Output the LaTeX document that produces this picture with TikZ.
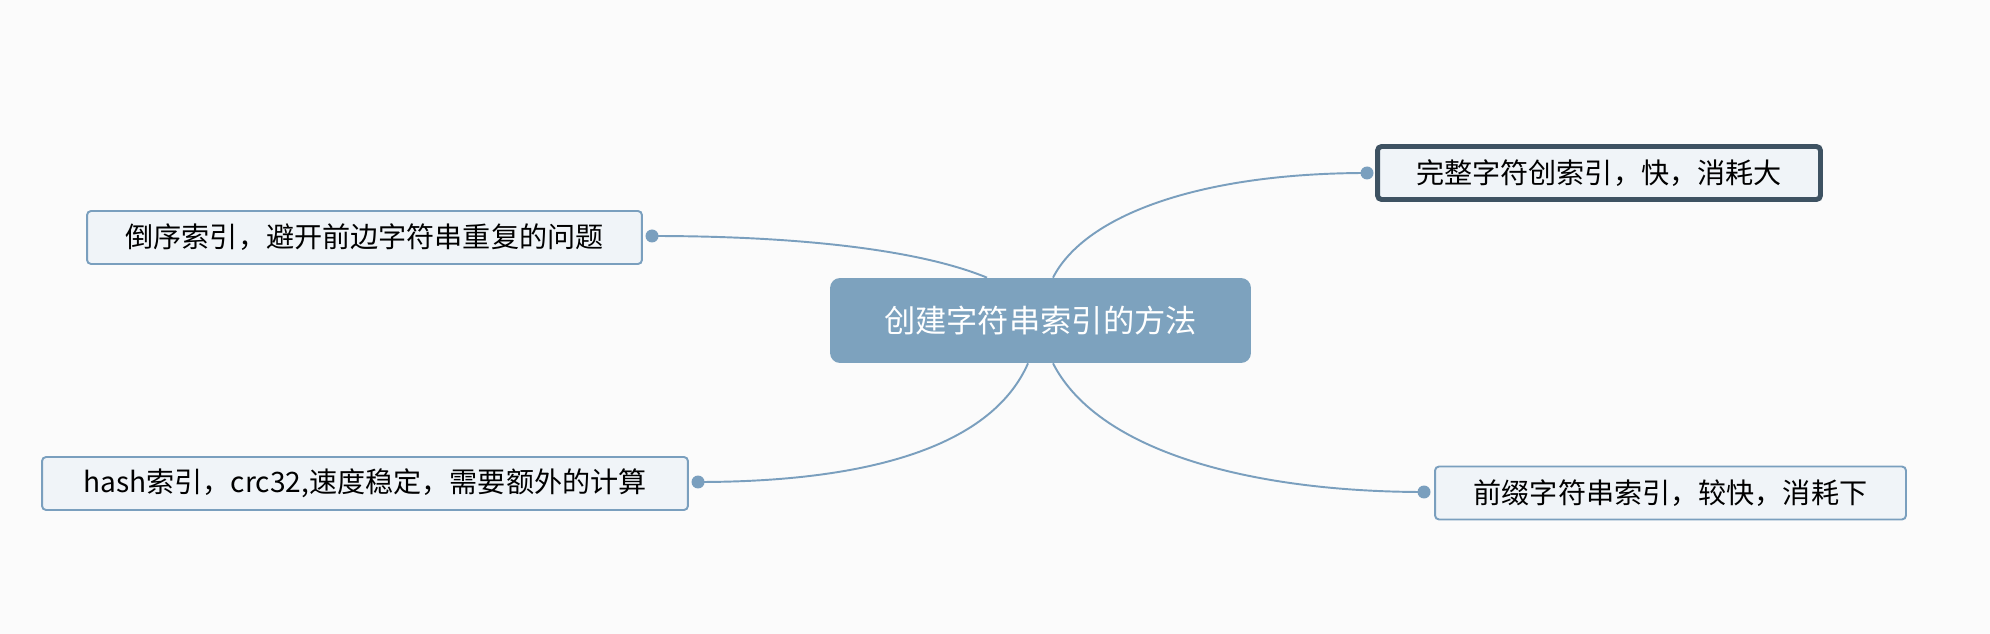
\documentclass[tikz,border=0pt]{standalone}
\usepackage{fontspec}
\setmainfont{Noto Sans CJK SC}
\usepackage{tikz}
\usetikzlibrary{calc}
\definecolor{rootblue}{HTML}{7DA2BE}
\definecolor{leafbg}{HTML}{F0F4F8}
\definecolor{leafline}{HTML}{7A9FBE}
\definecolor{selline}{HTML}{3E5262}
\definecolor{paper}{HTML}{FBFBFB}
\tikzset{
  root/.style={fill=rootblue,text=white,rounded corners=0.2cm,minimum width=8.42cm,minimum height=1.7cm,font=\fontsize{17.8}{21}\selectfont},
  leaf/.style={fill=leafbg,draw=leafline,line width=1.1pt,rounded corners=0.08cm,minimum height=1.06cm,font=\fontsize{16}{19}\selectfont},
  branch/.style={draw=leafline,line width=1.1pt},
  knob/.style={circle,fill=leafline,inner sep=0pt,minimum size=0.26cm}
}
\begin{document}
\begin{tikzpicture}[x=0.02cm,y=-0.02cm]
            \fill[paper] (0,0) rectangle (1990,634);
            \useasboundingbox (0,0) rectangle (1990,634);
            \node[root] (R) at (1040.5,320.5) {创建字符串索引的方法};
            \node[leaf,minimum width=8.86cm,draw=selline,line width=2.8pt] (A) at (1599,173) {完整字符创索引，快，消耗大};
            \node[leaf,minimum width=11.1cm] (B) at (364.5,237.5) {倒序索引，避开前边字符串重复的问题};
            \node[leaf,minimum width=12.92cm] (C) at (365,483.5) {hash索引，crc32,速度稳定，需要额外的计算};
            \node[leaf,minimum width=9.42cm] (D) at (1670.5,493) {前缀字符串索引，较快，消耗下};
            \node[knob] (a) at (1367,173) {};
            \node[knob] (b) at (652,236) {};
            \node[knob] (c) at (698,482) {};
            \node[knob] (d) at (1424,492) {};
            \draw[branch] ($(R.north)+(12.5,0)$) .. controls (1085,215) and (1200,173) .. (a.center);
            \draw[branch] ($(R.north)+(-53.5,0)$) .. controls (920,250) and (800,236) .. (b.center);
            \draw[branch] ($(R.south)+(-12.5,0)$) .. controls (990,450) and (860,482) .. (c.center);
            \draw[branch] ($(R.south)+(12.5,0)$) .. controls (1100,455) and (1260,492) .. (d.center);
        \end{tikzpicture}
\end{document}
